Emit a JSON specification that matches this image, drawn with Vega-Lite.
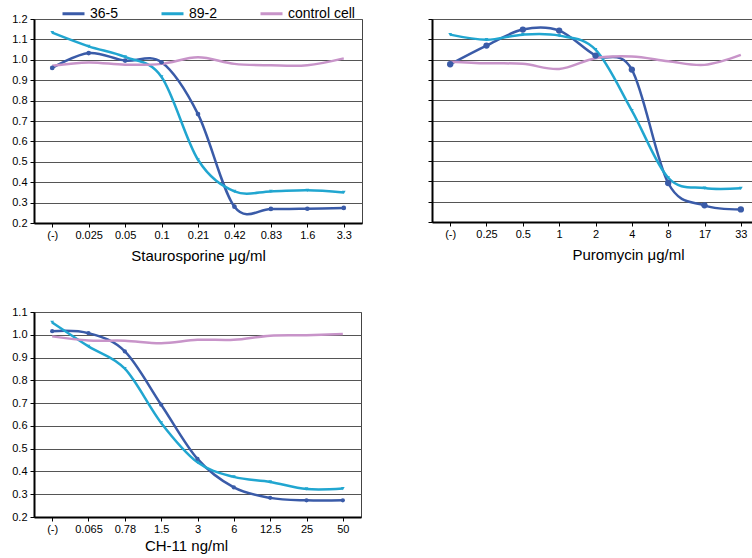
{
  "$schema": "https://vega.github.io/schema/vega-lite/v6.json",
  "padding": {"left": 11, "top": 1, "right": 2, "bottom": 2},
  "background": "white",
  "bounds": "flush",
  "columns": 2,
  "spacing": {"row": 89, "column": 70},
  "datasets": {
    "d": [
      {"panel": "S", "conc": "(-)", "series": "36-5", "value": 0.96},
      {"panel": "S", "conc": "0.025", "series": "36-5", "value": 1.033},
      {"panel": "S", "conc": "0.05", "series": "36-5", "value": 0.996},
      {"panel": "S", "conc": "0.1", "series": "36-5", "value": 0.988},
      {"panel": "S", "conc": "0.21", "series": "36-5", "value": 0.734},
      {"panel": "S", "conc": "0.42", "series": "36-5", "value": 0.28},
      {"panel": "S", "conc": "0.83", "series": "36-5", "value": 0.269},
      {"panel": "S", "conc": "1.6", "series": "36-5", "value": 0.27},
      {"panel": "S", "conc": "3.3", "series": "36-5", "value": 0.274},
      {"panel": "S", "conc": "(-)", "series": "89-2", "value": 1.133},
      {"panel": "S", "conc": "0.025", "series": "89-2", "value": 1.066},
      {"panel": "S", "conc": "0.05", "series": "89-2", "value": 1.014},
      {"panel": "S", "conc": "0.1", "series": "89-2", "value": 0.916},
      {"panel": "S", "conc": "0.21", "series": "89-2", "value": 0.51},
      {"panel": "S", "conc": "0.42", "series": "89-2", "value": 0.355},
      {"panel": "S", "conc": "0.83", "series": "89-2", "value": 0.355},
      {"panel": "S", "conc": "1.6", "series": "89-2", "value": 0.36},
      {"panel": "S", "conc": "3.3", "series": "89-2", "value": 0.35},
      {"panel": "S", "conc": "(-)", "series": "control cell", "value": 0.971},
      {"panel": "S", "conc": "0.025", "series": "control cell", "value": 0.987},
      {"panel": "S", "conc": "0.05", "series": "control cell", "value": 0.976},
      {"panel": "S", "conc": "0.1", "series": "control cell", "value": 0.98},
      {"panel": "S", "conc": "0.21", "series": "control cell", "value": 1.012},
      {"panel": "S", "conc": "0.42", "series": "control cell", "value": 0.98},
      {"panel": "S", "conc": "0.83", "series": "control cell", "value": 0.973},
      {"panel": "S", "conc": "1.6", "series": "control cell", "value": 0.973},
      {"panel": "S", "conc": "3.3", "series": "control cell", "value": 1.007},
      {"panel": "P", "conc": "(-)", "series": "36-5", "value": 0.977},
      {"panel": "P", "conc": "0.25", "series": "36-5", "value": 1.069},
      {"panel": "P", "conc": "0.5", "series": "36-5", "value": 1.148},
      {"panel": "P", "conc": "1", "series": "36-5", "value": 1.143},
      {"panel": "P", "conc": "2", "series": "36-5", "value": 1.02},
      {"panel": "P", "conc": "4", "series": "36-5", "value": 0.951},
      {"panel": "P", "conc": "8", "series": "36-5", "value": 0.392},
      {"panel": "P", "conc": "17", "series": "36-5", "value": 0.282},
      {"panel": "P", "conc": "33", "series": "36-5", "value": 0.262},
      {"panel": "P", "conc": "(-)", "series": "89-2", "value": 1.123},
      {"panel": "P", "conc": "0.25", "series": "89-2", "value": 1.098},
      {"panel": "P", "conc": "0.5", "series": "89-2", "value": 1.123},
      {"panel": "P", "conc": "1", "series": "89-2", "value": 1.118},
      {"panel": "P", "conc": "2", "series": "89-2", "value": 1.049},
      {"panel": "P", "conc": "4", "series": "89-2", "value": 0.749},
      {"panel": "P", "conc": "8", "series": "89-2", "value": 0.418},
      {"panel": "P", "conc": "17", "series": "89-2", "value": 0.367},
      {"panel": "P", "conc": "33", "series": "89-2", "value": 0.366},
      {"panel": "P", "conc": "(-)", "series": "control cell", "value": 0.99},
      {"panel": "P", "conc": "0.25", "series": "control cell", "value": 0.982},
      {"panel": "P", "conc": "0.5", "series": "control cell", "value": 0.979},
      {"panel": "P", "conc": "1", "series": "control cell", "value": 0.954},
      {"panel": "P", "conc": "2", "series": "control cell", "value": 1.007},
      {"panel": "P", "conc": "4", "series": "control cell", "value": 1.015},
      {"panel": "P", "conc": "8", "series": "control cell", "value": 0.992},
      {"panel": "P", "conc": "17", "series": "control cell", "value": 0.974},
      {"panel": "P", "conc": "33", "series": "control cell", "value": 1.023},
      {"panel": "C", "conc": "(-)", "series": "36-5", "value": 1.016},
      {"panel": "C", "conc": "0.065", "series": "36-5", "value": 1.007},
      {"panel": "C", "conc": "0.78", "series": "36-5", "value": 0.927},
      {"panel": "C", "conc": "1.5", "series": "36-5", "value": 0.693},
      {"panel": "C", "conc": "3", "series": "36-5", "value": 0.455},
      {"panel": "C", "conc": "6", "series": "36-5", "value": 0.33},
      {"panel": "C", "conc": "12.5", "series": "36-5", "value": 0.284},
      {"panel": "C", "conc": "25", "series": "36-5", "value": 0.273},
      {"panel": "C", "conc": "50", "series": "36-5", "value": 0.273},
      {"panel": "C", "conc": "(-)", "series": "89-2", "value": 1.054},
      {"panel": "C", "conc": "0.065", "series": "89-2", "value": 0.949},
      {"panel": "C", "conc": "0.78", "series": "89-2", "value": 0.851},
      {"panel": "C", "conc": "1.5", "series": "89-2", "value": 0.613},
      {"panel": "C", "conc": "3", "series": "89-2", "value": 0.44},
      {"panel": "C", "conc": "6", "series": "89-2", "value": 0.376},
      {"panel": "C", "conc": "12.5", "series": "89-2", "value": 0.354},
      {"panel": "C", "conc": "25", "series": "89-2", "value": 0.323},
      {"panel": "C", "conc": "50", "series": "89-2", "value": 0.325},
      {"panel": "C", "conc": "(-)", "series": "control cell", "value": 0.993},
      {"panel": "C", "conc": "0.065", "series": "control cell", "value": 0.975},
      {"panel": "C", "conc": "0.78", "series": "control cell", "value": 0.974},
      {"panel": "C", "conc": "1.5", "series": "control cell", "value": 0.963},
      {"panel": "C", "conc": "3", "series": "control cell", "value": 0.978},
      {"panel": "C", "conc": "6", "series": "control cell", "value": 0.978},
      {"panel": "C", "conc": "12.5", "series": "control cell", "value": 0.996},
      {"panel": "C", "conc": "25", "series": "control cell", "value": 0.998},
      {"panel": "C", "conc": "50", "series": "control cell", "value": 1.003}
    ]
  },
  "data": {"name": "d"},
  "concat": [
    {
      "width": 328, "height": 204,
      "transform": [{"filter": "datum.panel === 'S'"}],
      "encoding": {
        "x": {"field": "conc", "type": "ordinal", "scale": {"type": "point", "padding": 0.5, "domain": ["(-)", "0.025", "0.05", "0.1", "0.21", "0.42", "0.83", "1.6", "3.3"]}, "axis": {"title": "Staurosporine μg/ml"}},
        "y": {"field": "value", "type": "quantitative", "scale": {"domain": [0.2, 1.2], "nice": false, "zero": false}, "axis": {"values": [0.2, 0.3, 0.4, 0.5, 0.6, 0.7, 0.8, 0.9, 1.0, 1.1, 1.2], "format": ".1f", "title": null}},
        "color": {"field": "series", "type": "nominal", "scale": {"domain": ["36-5", "89-2", "control cell"], "range": ["#3a5ba8", "#21a6d0", "#c894c9"]}, "legend": {"orient": "none", "legendX": 27, "legendY": -18, "direction": "horizontal", "columns": 3, "title": null, "symbolType": "stroke", "symbolSize": 484, "symbolStrokeWidth": 3, "labelFontSize": 14, "labelFont": "Liberation Sans", "labelColor": "black", "columnPadding": 36, "labelOffset": 4}}
      },
      "layer": [
        {"mark": {"type": "line", "interpolate": "cardinal", "strokeWidth": 2.5}},
        {"transform": [{"filter": "datum.series === '36-5'"}], "mark": {"type": "point", "filled": true, "size": 22, "opacity": 1}},
        {"transform": [{"filter": "datum.series === '89-2'"}], "mark": {"type": "point", "shape": "triangle-down", "filled": true, "size": 14, "opacity": 1}}
      ]
    },
    {
      "width": 327, "height": 203,
      "transform": [{"filter": "datum.panel === 'P'"}],
      "encoding": {
        "x": {"field": "conc", "type": "ordinal", "scale": {"type": "point", "padding": 0.5, "domain": ["(-)", "0.25", "0.5", "1", "2", "4", "8", "17", "33"]}, "axis": {"title": "Puromycin μg/ml", "titleX": 196}},
        "y": {"field": "value", "type": "quantitative", "scale": {"domain": [0.2, 1.2], "nice": false, "zero": false}, "axis": {"values": [0.2, 0.3, 0.4, 0.5, 0.6, 0.7, 0.8, 0.9, 1.0, 1.1, 1.2], "labels": false, "title": null}},
        "color": {"field": "series", "type": "nominal"}
      },
      "layer": [
        {"mark": {"type": "line", "interpolate": "cardinal", "strokeWidth": 2.5}},
        {"transform": [{"filter": "datum.series === '36-5'"}], "mark": {"type": "point", "filled": true, "size": 40, "opacity": 1}},
        {"transform": [{"filter": "datum.series === '89-2'"}], "mark": {"type": "point", "shape": "triangle-down", "filled": true, "size": 14, "opacity": 1}}
      ]
    },
    {
      "width": 327, "height": 205,
      "transform": [{"filter": "datum.panel === 'C'"}],
      "encoding": {
        "x": {"field": "conc", "type": "ordinal", "scale": {"type": "point", "padding": 0.5, "domain": ["(-)", "0.065", "0.78", "1.5", "3", "6", "12.5", "25", "50"]}, "axis": {"title": "CH-11 ng/ml", "titlePadding": 4, "titleX": 152}},
        "y": {"field": "value", "type": "quantitative", "scale": {"domain": [0.2, 1.1], "nice": false, "zero": false}, "axis": {"values": [0.2, 0.3, 0.4, 0.5, 0.6, 0.7, 0.8, 0.9, 1.0, 1.1], "format": ".1f", "title": null}},
        "color": {"field": "series", "type": "nominal"}
      },
      "layer": [
        {"mark": {"type": "line", "interpolate": "cardinal", "strokeWidth": 2.5}},
        {"transform": [{"filter": "datum.series === '36-5'"}], "mark": {"type": "point", "filled": true, "size": 18, "opacity": 1}},
        {"transform": [{"filter": "datum.series === '89-2'"}], "mark": {"type": "point", "shape": "triangle-down", "filled": true, "size": 14, "opacity": 1}}
      ]
    }
  ],
  "config": {
    "font": "Liberation Sans",
    "view": {"stroke": "#444", "strokeWidth": 1},
    "axis": {"domainColor": "black", "domainWidth": 2, "tickColor": "black", "tickSize": 4, "labelColor": "black", "labelFontSize": 11, "labelFont": "Liberation Sans", "titleColor": "black", "titleFontSize": 15, "titleFontWeight": "normal", "titleFont": "Liberation Sans"},
    "axisY": {"grid": true, "gridColor": "#555", "gridWidth": 1, "labelPadding": 3},
    "axisX": {"grid": false, "labelAngle": 0, "labelPadding": 2, "titlePadding": 8, "ticks": true}
  }
}
